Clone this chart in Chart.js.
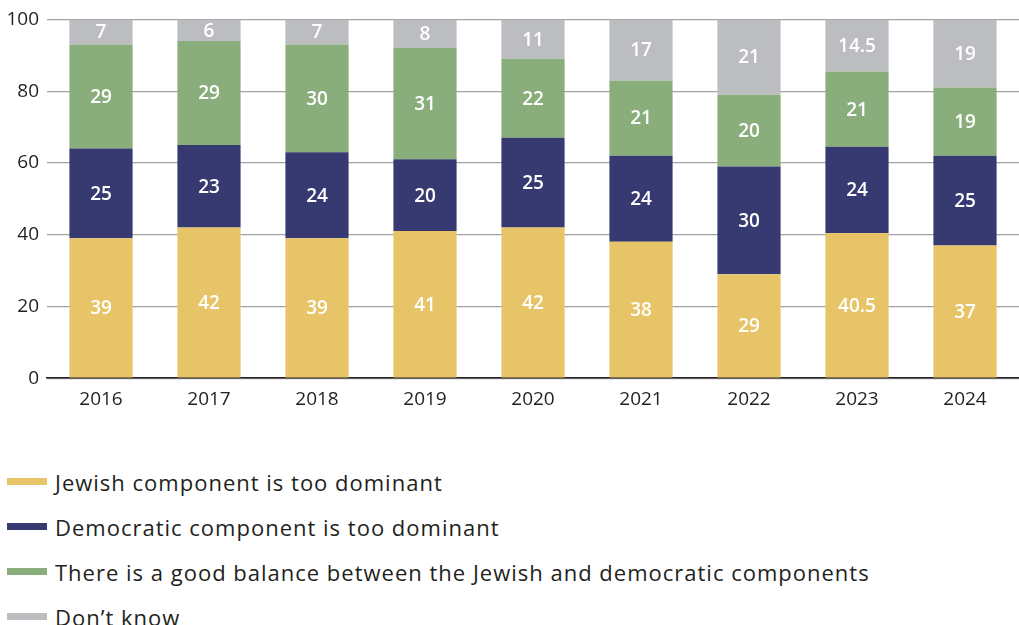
<!DOCTYPE html>
<html>
<head>
<meta charset="utf-8">
<script src="https://cdn.jsdelivr.net/npm/chart.js@4/dist/chart.umd.min.js"></script>
<style>
  body { margin: 0; background: #fff; font-family: "Open Sans", sans-serif; }
  #wrap { position: relative; width: 1019px; height: 413px; }
  #legend { position: absolute; left: 7px; top: 459px; }
  .item { height: 45px; display: flex; align-items: center; font-size: 22px; letter-spacing: 1px; color: #231f20; }
  .swatch { width: 40px; height: 7px; margin-right: 8px; }
</style>
</head>
<body>
<div id="wrap"><canvas id="chart"></canvas></div>
<div id="legend"></div>
<script>
const years = ['2016', '2017', '2018', '2019', '2020', '2021', '2022', '2023', '2024'];
const jewish = [39, 42, 39, 41, 42, 38, 29, 40.5, 37];
const democratic = [25, 23, 24, 20, 25, 24, 30, 24, 25];
const balance = [29, 29, 30, 31, 22, 21, 20, 21, 19];
const dontKnow = [7, 6, 7, 8, 11, 17, 21, 14.5, 19];
const yTicks = [0, 20, 40, 60, 80, 100];

const seriesNames = [
    'Jewish component is too dominant',
    'Democratic component is too dominant',
    'There is a good balance between the Jewish and democratic components',
    'Don\u2019t know'
];
const seriesColors = ['#e8c468', '#373a70', '#8aae7b', '#bcbdc1'];
const seriesData = [jewish, democratic, balance, dontKnow];

// value labels in the middle of each segment
const segmentLabels = {
    id: 'segmentLabels',
    afterDatasetsDraw(chart) {
        const ctx = chart.ctx;
        ctx.save();
        ctx.fillStyle = '#ffffff';
        ctx.font = '600 19px "Open Sans", sans-serif';
        ctx.textAlign = 'center';
        ctx.textBaseline = 'middle';
        chart.data.datasets.forEach((ds, i) => {
            chart.getDatasetMeta(i).data.forEach((bar, j) => {
                const y = (bar.y + bar.base) / 2;
                ctx.fillText(String(ds.data[j]), bar.x, y + 1);
            });
        });
        ctx.restore();
    }
};

const ctx = document.getElementById('chart').getContext('2d');
const chart = new Chart(ctx, {
    type: 'bar',
    data: {
        labels: years,
        datasets: seriesData.map((d, i) => ({
            label: seriesNames[i],
            data: d,
            backgroundColor: seriesColors[i],
            borderWidth: 0,
            categoryPercentage: 1,
            barPercentage: 0.585
        }))
    },
    options: {
        responsive: true,
        maintainAspectRatio: false,
        animation: false,
        layout: { padding: { top: 3, right: 0, left: 0, bottom: 0 } },
        plugins: {
            legend: { display: false },
            tooltip: { enabled: false }
        },
        scales: {
            x: {
                stacked: true,
                grid: { display: false },
                border: { display: true, color: '#231f20', width: 1.5 },
                ticks: {
                    color: '#231f20',
                    font: { family: '"Open Sans", sans-serif', size: 19 },
                    padding: 2
                }
            },
            y: {
                stacked: true,
                min: 0,
                max: 100,
                afterBuildTicks(axis) {
                    axis.ticks = yTicks.map(v => ({ value: v }));
                },
                afterFit(axis) {
                    axis.width = 47;
                },
                grid: { color: '#a3a3a3', lineWidth: 1.2, drawTicks: false },
                border: { display: false },
                ticks: {
                    color: '#231f20',
                    font: { family: '"Open Sans", sans-serif', size: 19 },
                    padding: 8
                }
            }
        }
    },
    plugins: [segmentLabels]
});

// legend, one entry per row
const legend = document.getElementById('legend');
seriesNames.forEach((name, i) => {
    const row = document.createElement('div');
    row.className = 'item';
    const sw = document.createElement('span');
    sw.className = 'swatch';
    sw.style.background = seriesColors[i];
    const txt = document.createElement('span');
    txt.textContent = name;
    row.appendChild(sw);
    row.appendChild(txt);
    legend.appendChild(row);
});
</script>
</body>
</html>
